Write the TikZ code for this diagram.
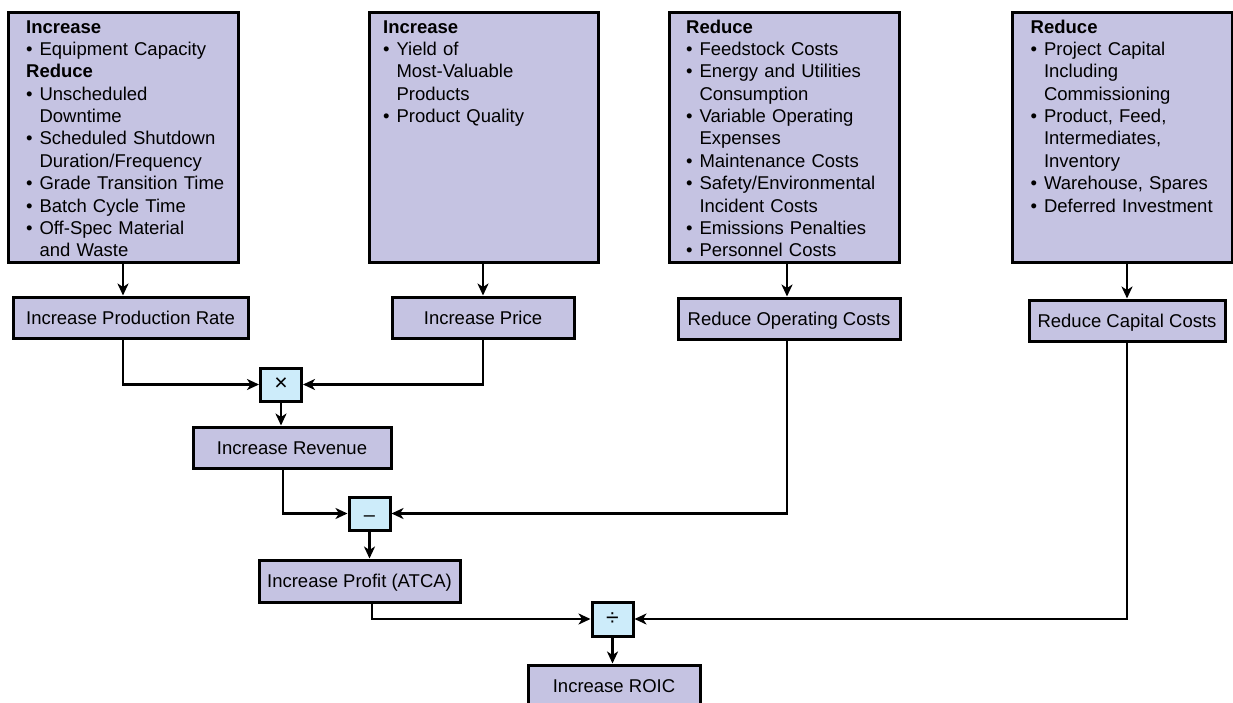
\documentclass[tikz,border=0pt]{standalone}
\usepackage{fontspec}
\setmainfont{Liberation Sans}
\usetikzlibrary{arrows.meta,calc}
\definecolor{lav}{RGB}{197,195,226}
\definecolor{opblue}{RGB}{205,236,250}
\newcommand{\myb}{\makebox[0.72em][l]{•}}
\newcommand{\myi}{\hspace*{0.72em}}
\begin{document}
\begin{tikzpicture}[x=1pt,y=-1pt,
  box/.style={draw=black, line width=3pt, fill=lav, inner sep=0pt,
    font=\fontsize{18.5}{22.3}\selectfont, text height=13pt, text depth=0pt},
  opbox/.style={draw=black, line width=3pt, fill=opblue, inner sep=0pt,
    minimum width=41pt, minimum height=33pt, font=\fontsize{23}{24}\selectfont},
  list/.style={anchor=base west, inner sep=0pt, text width=215pt, align=left,
    font=\fontsize{18.5}{22.34}\selectfont},
  conn/.style={line width=2.5pt},
  arr/.style={conn, -{Stealth[length=12pt,width=11pt,inset=3.5pt]}}]
\useasboundingbox (0,0) rectangle (1233,703);

% top boxes
\node[box, minimum width=230pt, minimum height=249pt] (t1) at (123,137.5) {};
\node[box, minimum width=229pt, minimum height=249pt] (t2) at (483.5,137.5) {};
\node[box, minimum width=230pt, minimum height=249pt] (t3) at (784,137.5) {};
\node[box, minimum width=220pt, minimum height=249pt] (t4) at (1122,137.5) {};

\node[list] (l1) at (26,33.3) {\textbf{Increase}\\
\myb Equipment Capacity\\
\textbf{Reduce}\\
\myb Unscheduled\\
\myi Downtime\\
\myb Scheduled Shutdown\\
\myi Duration/Frequency\\
\myb Grade Transition Time\\
\myb Batch Cycle Time\\
\myb Off-Spec Material\\
\myi and Waste};

\node[list] (l2) at (383,33.3) {\textbf{Increase}\\
\myb Yield of\\
\myi Most-Valuable\\
\myi Products\\
\myb Product Quality};

\node[list] (l3) at (686,33.3) {\textbf{Reduce}\\
\myb Feedstock Costs\\
\myb Energy and Utilities\\
\myi Consumption\\
\myb Variable Operating\\
\myi Expenses\\
\myb Maintenance Costs\\
\myb Safety/Environmental\\
\myi Incident Costs\\
\myb Emissions Penalties\\
\myb Personnel Costs};

\node[list] (l4) at (1030.5,33.3) {\textbf{Reduce}\\
\myb Project Capital\\
\myi Including\\
\myi Commissioning\\
\myb Product, Feed,\\
\myi Intermediates,\\
\myi Inventory\\
\myb Warehouse, Spares\\
\myb Deferred Investment};

% middle boxes
\node[box, minimum width=235pt, minimum height=41pt] (prod) at (130.5,317.5) {Increase Production Rate};
\node[box, minimum width=182pt, minimum height=41pt] (price) at (483,317.5) {Increase Price};
\node[box, minimum width=222pt, minimum height=41pt] (rop) at (789,318.5) {Reduce Operating Costs};
\node[box, minimum width=196pt, minimum height=41pt] (cap) at (1127,320.5) {Reduce Capital Costs};

% operators
\node[opbox] (mul) at (281,384.5) {×};
\node[opbox, text height=16pt, text depth=0pt, font=\fontsize{20}{22}\selectfont] (minus) at (369.5,513.5) {–};
\node[opbox, minimum height=34pt] (div) at (612.5,619) {÷};

% result boxes
\node[box, minimum width=198pt, minimum height=41pt] (rev) at (292,447.5) {Increase Revenue};
\node[box, minimum width=201pt, minimum height=42pt] (profit) at (359.5,581) {Increase Profit (ATCA)};
\node[box, minimum width=172pt, minimum height=42pt] (roic) at (614,686) {Increase ROIC};

% column positions
\coordinate (c1) at (123,0);
\coordinate (c2) at (483,0);
\coordinate (c3) at (787,0);
\coordinate (c4) at (1127,0);
\coordinate (c5) at (283,0);
\coordinate (c6) at (372,0);

\draw[arr] (t1.south -| c1) -- (prod.north -| c1);
\draw[arr] (t2.south -| c2) -- (price.north -| c2);
\draw[arr] (t3.south -| c3) -- (rop.north -| c3);
\draw[arr] (t4.south -| c4) -- (cap.north -| c4);

\draw[arr] (prod.south -| c1) |- (mul.west);
\draw[arr] (price.south -| c2) |- (mul.east);
\draw[arr] (mul.south) -- (rev.north -| mul.south);
\draw[arr] (rev.south -| c5) |- (minus.west);
\draw[arr] (rop.south -| c3) |- (minus.east);
\draw[arr] (minus.south) -- (profit.north -| minus.south);
\draw[arr] (profit.south -| c6) |- (div.west);
\draw[arr] (cap.south -| c4) |- (div.east);
\draw[arr] (div.south) -- (roic.north -| div.south);
\end{tikzpicture}
\end{document}
